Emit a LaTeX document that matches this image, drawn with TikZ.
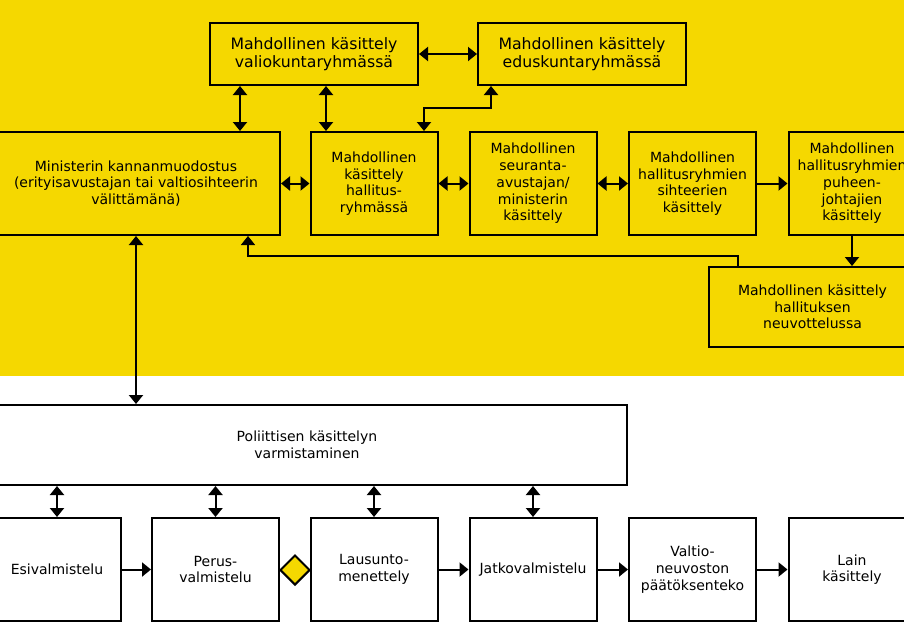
\documentclass[tikz,border=0pt]{standalone}
\usepackage{fontspec}
\setmainfont{DejaVu Sans}
\usetikzlibrary{arrows.meta,shapes.geometric}
\definecolor{ylw}{RGB}{245,216,0}
\begin{document}
\begin{tikzpicture}[x=1pt,y=-1pt,
 box/.style={draw=black, line width=2pt, align=center, inner sep=0pt, font=\fontsize{14}{16.7}\selectfont},
 ybox/.style={box, fill=ylw},
 wbox/.style={box, fill=white},
 big/.style={font=\fontsize{15.7}{18.3}\selectfont},
 colbox/.style={minimum width=127pt, minimum height=103pt},
 tip/.tip={Triangle[width=14pt,length=9pt]},
 conn/.style={line width=2pt, -tip},
 biconn/.style={line width=2pt, tip-tip},
]
\clip (0,0) rectangle (904,638);
\fill[ylw] (0,0) rectangle (904,376);
\fill[white] (0,376) rectangle (904,638);

% top area
\node[ybox,big,minimum width=208pt,minimum height=62pt] (valio) at (314,54) {Mahdollinen käsittely\\valiokuntaryhmässä};
\node[ybox,big,minimum width=208pt,minimum height=62pt] (edus) at (582,54) {Mahdollinen käsittely\\eduskuntaryhmässä};
\node[ybox,minimum width=288pt,minimum height=103pt] (min) at (136,183.5) {Ministerin kannanmuodostus\\(erityisavustajan tai valtiosihteerin\\välittämänä)};
\node[ybox,colbox] (hall) at (374,183.5) {Mahdollinen\\käsittely\\hallitus-\\ryhmässä};
\node[ybox,colbox] (seur) at (533,183.5) {Mahdollinen\\seuranta-\\avustajan/\\ministerin\\käsittely};
\node[ybox,colbox] (siht) at (692.5,183.5) {Mahdollinen\\hallitusryhmien\\sihteerien\\käsittely};
\node[ybox,colbox] (puh) at (852,183.5) {Mahdollinen\\hallitusryhmien\\puheen-\\johtajien\\käsittely};
\node[ybox,minimum width=207pt,minimum height=80pt] (neuv) at (812.5,307) {Mahdollinen käsittely\\hallituksen\\neuvottelussa};

% bottom area
\node[wbox,minimum width=640pt,minimum height=80pt] (pol) at (307,445) {Poliittisen käsittelyn\\varmistaminen};
\node[wbox,colbox] (esi) at (57,569.5) {Esivalmistelu};
\node[wbox,colbox] (perus) at (215.5,569.5) {Perus-\\valmistelu};
\node[wbox,colbox] (laus) at (374,569.5) {Lausunto-\\menettely};
\node[wbox,colbox] (jatko) at (533,569.5) {Jatkovalmistelu};
\node[wbox,colbox] (valt) at (692.5,569.5) {Valtio-\\neuvoston\\päätöksenteko};
\node[wbox,colbox] (lain) at (852,569.5) {Lain\\käsittely};
\node[draw=black, line width=2pt, fill=ylw, diamond, inner sep=0pt, minimum width=30pt, minimum height=30pt] (dia) at (295,570) {};

% helper coordinates
\coordinate (xa) at (240,0);
\coordinate (xb) at (326,0);
\coordinate (xc) at (424,0);
\coordinate (xd) at (491,0);
\coordinate (xf) at (248,0);
\coordinate (xg) at (738,0);
\coordinate (ya) at (0,108);
\coordinate (yb) at (0,256);

% connectors top
\draw[biconn] (valio.east) -- (edus.west);
\draw[biconn] (valio.south -| xa) -- (min.north -| xa);
\draw[biconn] (valio.south -| xb) -- (hall.north -| xb);
\draw[biconn] (hall.north -| xc) -- (xc |- ya) -- (xd |- ya) -- (edus.south -| xd);
\draw[biconn] (min.east) -- (hall.west);
\draw[biconn] (hall.east) -- (seur.west);
\draw[biconn] (seur.east) -- (siht.west);
\draw[conn] (siht.east) -- (puh.west);
\draw[conn] (puh.south) -- (neuv.north -| puh.south);
\draw[conn, line width=1.6pt] (neuv.north -| xg) -- (xg |- yb) -- (xf |- yb) -- (min.south -| xf);
\draw[biconn] (min.south) -- (pol.north -| min.south);

% connectors bottom
\draw[biconn] (pol.south -| esi.north) -- (esi.north);
\draw[biconn] (pol.south -| perus.north) -- (perus.north);
\draw[biconn] (pol.south -| laus.north) -- (laus.north);
\draw[biconn] (pol.south -| jatko.north) -- (jatko.north);
\draw[conn] (esi.east) -- (perus.west);
\draw[conn] (laus.east) -- (jatko.west);
\draw[conn] (jatko.east) -- (valt.west);
\draw[conn] (valt.east) -- (lain.west);
\end{tikzpicture}
\end{document}
